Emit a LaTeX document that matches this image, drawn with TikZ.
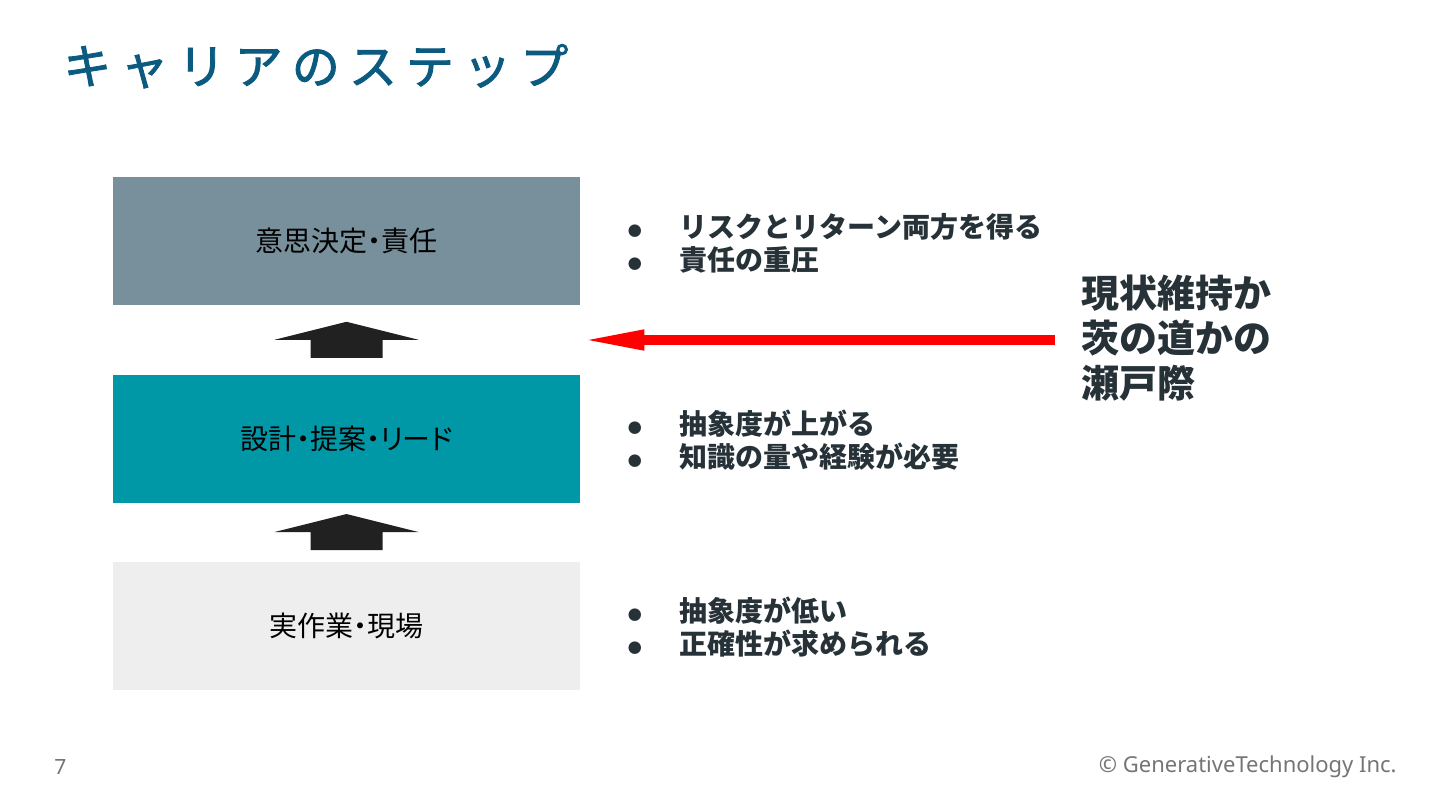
\documentclass[tikz,border=0pt]{standalone}
\usepackage{fontspec}
\setmainfont{Noto Sans CJK JP}
\newfontfamily\footfont{Noto Sans}
\usetikzlibrary{arrows.meta}
\usetikzlibrary{calc}
\usetikzlibrary{positioning}
\definecolor{mtitle}{HTML}{0B5A80}
\definecolor{mtop}{HTML}{78909C}
\definecolor{mmid}{HTML}{0097A7}
\definecolor{mlow}{HTML}{EEEEEE}
\definecolor{mink}{HTML}{263238}
\definecolor{mblock}{HTML}{212121}
\definecolor{mfoot}{HTML}{757575}
\newcommand{\bul}{\makebox[26pt][l]{\raisebox{0.5pt}{\fontsize{7pt}{7pt}\selectfont ●}}}
\tikzset{stage/.style = {minimum width=233.5pt, minimum height=64pt, inner sep=0pt,
                         font=\fontsize{14pt}{14pt}\selectfont\addfontfeature{RawFeature=+palt}}}
\tikzset{notes/.style = {right=23.5pt of #1, inner sep=0pt, align=left, text=mink,
                         font=\fontsize{14pt}{16.5pt}\selectfont\bfseries}}
\tikzset{stepup/.style = {fill=mblock}}
\tikzset{warn/.style = {draw=red, line width=5pt,
                        -{Triangle[length=33.5pt, width=9pt]}}}

\begin{document}
\begin{tikzpicture}[x=0.5pt, y=-0.5pt]
    \useasboundingbox (0, 0) rectangle (1440, 810);
    \fill [white] (0, 0) rectangle (1440, 810);

    \node [anchor=base west, inner sep=0pt, text=mtitle,
           font=\fontsize{24pt}{24pt}\selectfont\addfontfeature{LetterSpace=19, FakeBold=1.8}]
        (title) at (63, 84) {キャリアのステップ};

    \node [stage, fill=mtop] (decide) at (346.5, 241) {意思決定・責任};
    \node [stage, fill=mmid] (design) at (346.5, 438.5) {設計・提案・リード};
    \node [stage, fill=mlow] (field) at (346.5, 625.5) {実作業・現場};

    \foreach \lo/\hi in {design/decide, field/design} {
        \coordinate (gap) at ($(\lo.north)!0.5!(\hi.south)$);
        \fill [stepup] ($(gap) + (0, -18)$) -- ++(72, 18) -- ++(-36, 0) -- ++(0, 18)
            -- ++(-72, 0) -- ++(0, -18) -- ++(-36, 0) -- cycle;
    }

    \node [notes=decide, yshift=-1pt] (decidenotes) {\bul リスクとリターン両方を得る\\ \bul 責任の重圧};
    \node [notes=design, yshift=-1pt] (designnotes) {\bul 抽象度が上がる\\ \bul 知識の量や経験が必要};
    \node [notes=field, yshift=-1pt] (fieldnotes) {\bul 抽象度が低い\\ \bul 正確性が求められる};

    \node [anchor=west, inner sep=0pt, align=left, text=mink,
           font=\fontsize{19pt}{22.5pt}\selectfont\bfseries]
        (verge) at (1081, 338) {現状維持か\\ 茨の道かの\\ 瀬戸際};

    \coordinate (tail) at ($(verge.west) + (-26, 2)$);
    \coordinate (aim) at ($(decide.south east)!0.5!(design.north east) + (-3, 0)$);
    \draw [warn] (tail) -- (aim |- tail);

    \node [anchor=base west, inner sep=0pt, text=mfoot, font=\footfont\fontsize{10.5pt}{10.5pt}\selectfont]
        (pageno) at (54, 774) {7};
    \node [anchor=base east, inner sep=0pt, text=mfoot, font=\footfont\fontsize{11pt}{11pt}\selectfont]
        (credit) at (1397, 772) {© GenerativeTechnology Inc.};
\end{tikzpicture}
\end{document}
